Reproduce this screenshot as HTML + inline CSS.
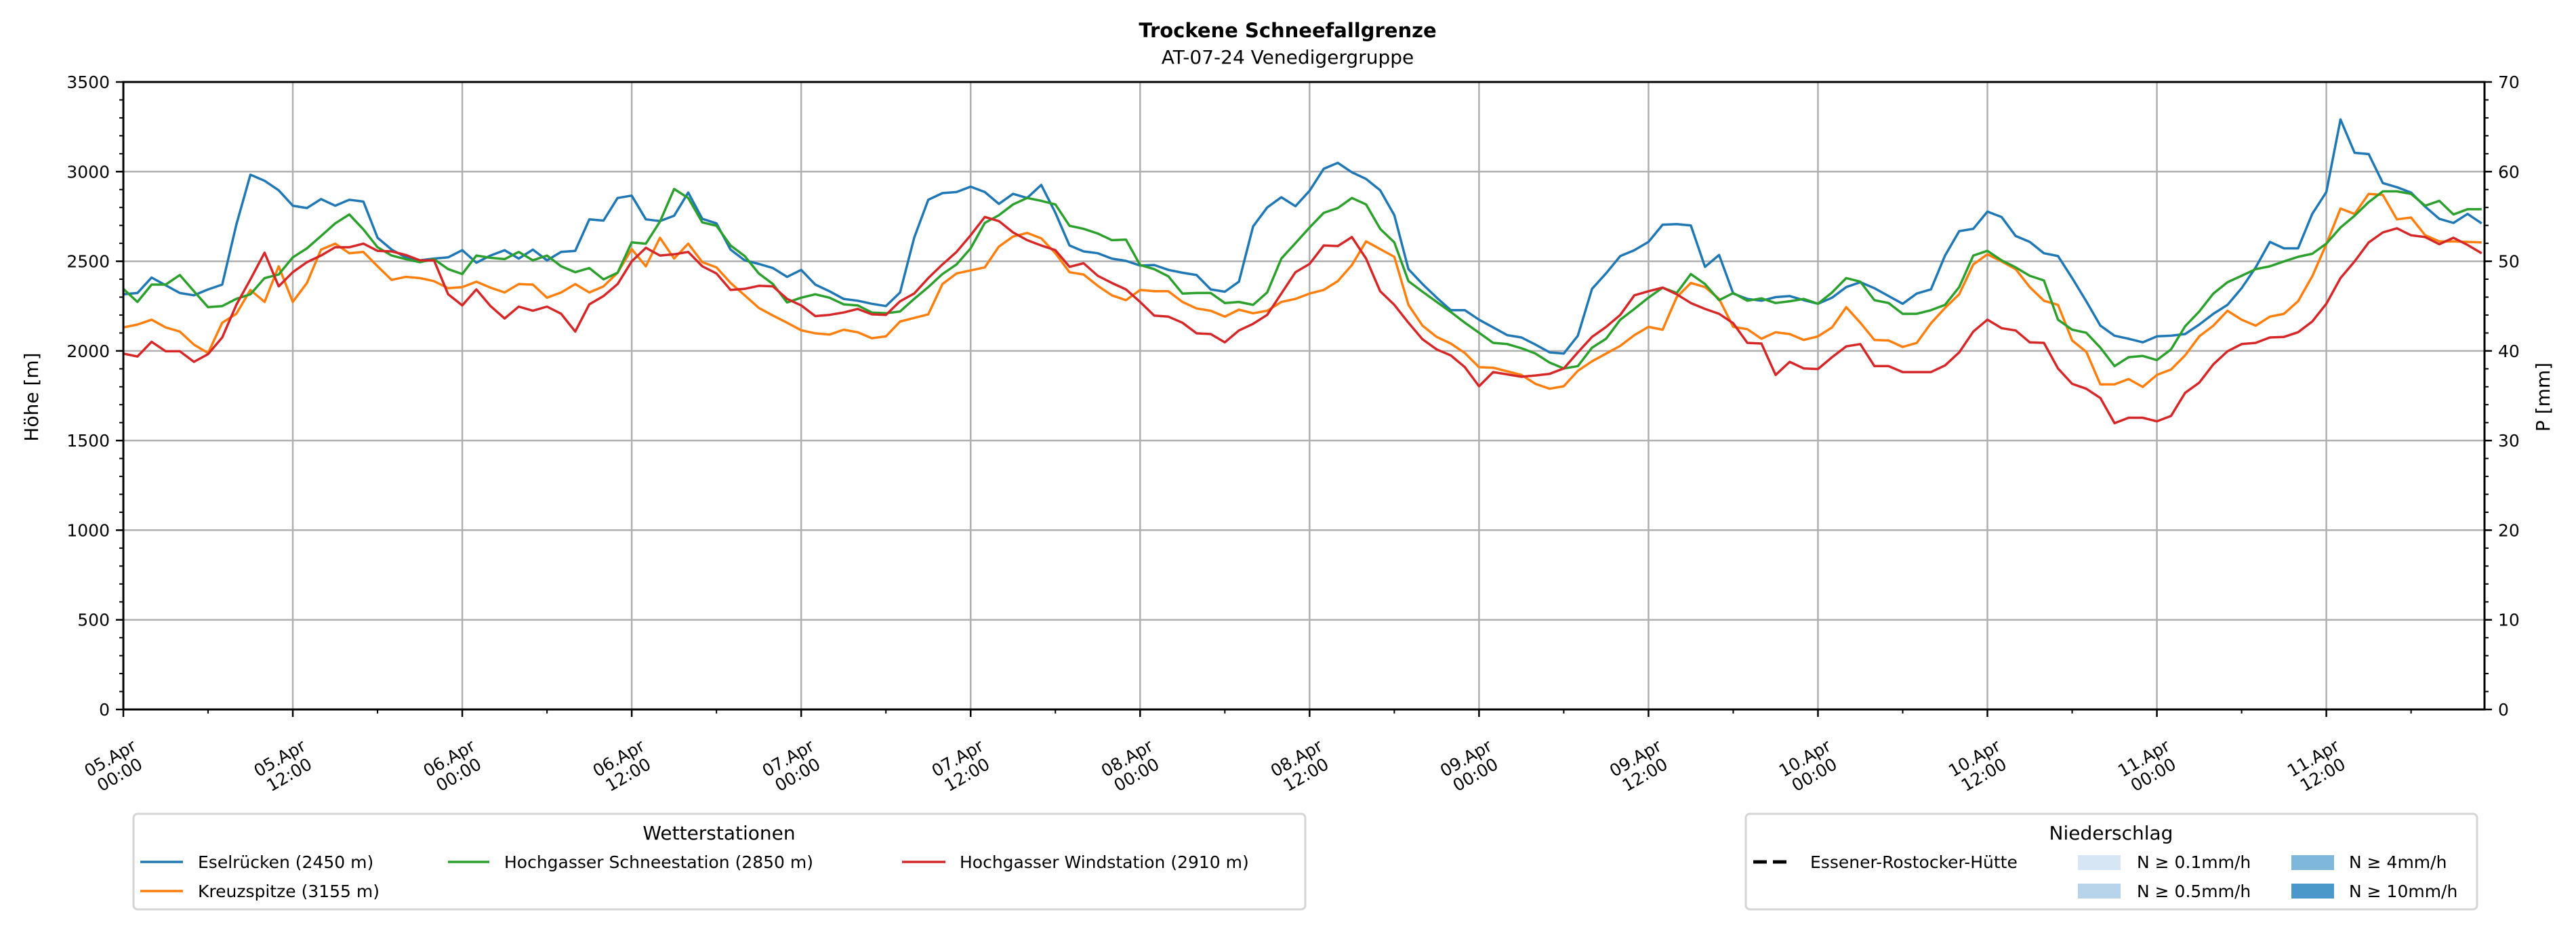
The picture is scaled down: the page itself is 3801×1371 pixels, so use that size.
<!DOCTYPE html>
<html><head><meta charset="utf-8"><style>
html,body{margin:0;padding:0;background:#fff;}
svg{display:block;font-family:"DejaVu Sans","Liberation Sans",sans-serif;}
</style></head><body>
<svg id="chart" width="3801" height="1371" viewBox="0 0 3801 1371" xmlns="http://www.w3.org/2000/svg">
<text x="1900" y="55" text-anchor="middle" font-size="29" font-weight="bold">Trockene Schneefallgrenze</text>
<text x="1900" y="94" text-anchor="middle" font-size="28">AT-07-24 Venedigergruppe</text>
<g id="grid"></g><g id="series"></g><g id="axes"></g>
<text transform="translate(56,586) rotate(-90)" text-anchor="middle" font-size="28">Höhe [m]</text>
<text transform="translate(3762,586) rotate(-90)" text-anchor="middle" font-size="28">P [mm]</text>
<g>
<rect x="197" y="1201" width="1729" height="141" rx="6" fill="#fff" stroke="#d5d5d5" stroke-width="3"/>
<text x="1061" y="1239" text-anchor="middle" font-size="28">Wetterstationen</text>
<g><line x1="207" y1="1272" x2="270" y2="1272" stroke="#1f77b4" stroke-width="3.5"/><text x="292" y="1281" font-size="25">Eselrücken (2450 m)</text></g>
<g><line x1="207" y1="1315" x2="270" y2="1315" stroke="#ff7f0e" stroke-width="3.5"/><text x="292" y="1324" font-size="25">Kreuzspitze (3155 m)</text></g>
<g><line x1="661" y1="1272" x2="722" y2="1272" stroke="#2ca02c" stroke-width="3.5"/><text x="744" y="1281" font-size="25">Hochgasser Schneestation (2850 m)</text></g>
<g><line x1="1331" y1="1272" x2="1395" y2="1272" stroke="#d62728" stroke-width="3.5"/><text x="1416" y="1281" font-size="25">Hochgasser Windstation (2910 m)</text></g>
</g>
<g>
<rect x="2576" y="1201" width="1079" height="141" rx="6" fill="#fff" stroke="#d5d5d5" stroke-width="3"/>
<text x="3115" y="1239" text-anchor="middle" font-size="28">Niederschlag</text>
<g><line x1="2587" y1="1272" x2="2643" y2="1272" stroke="#000" stroke-width="5" stroke-dasharray="20,9"/><text x="2671" y="1281" font-size="25">Essener-Rostocker-Hütte</text></g>
<g><rect x="3066" y="1262" width="63" height="22" fill="#d6e6f4"/><text x="3153" y="1281" font-size="25">N ≥ 0.1mm/h</text></g>
<g><rect x="3066" y="1304" width="63" height="22" fill="#b8d4ea"/><text x="3153" y="1324" font-size="25">N ≥ 0.5mm/h</text></g>
<g><rect x="3381" y="1262" width="63" height="22" fill="#7fb6dc"/><text x="3466" y="1281" font-size="25">N ≥ 4mm/h</text></g>
<g><rect x="3381" y="1304" width="63" height="22" fill="#4a97c9"/><text x="3466" y="1324" font-size="25">N ≥ 10mm/h</text></g>
</g>
</svg>
<script>
const xTickLabels = ["05.Apr|00:00","05.Apr|12:00","06.Apr|00:00","06.Apr|12:00","07.Apr|00:00","07.Apr|12:00","08.Apr|00:00","08.Apr|12:00","09.Apr|00:00","09.Apr|12:00","10.Apr|00:00","10.Apr|12:00","11.Apr|00:00","11.Apr|12:00"];
const yTicks = [0,500,1000,1500,2000,2500,3000,3500];
const y2Ticks = [0,10,20,30,40,50,60,70];
const eselruecken = [2316,2323,2409,2366,2323,2310,2343,2370,2704,2983,2949,2896,2810,2797,2847,2810,2843,2833,2631,2565,2522,2505,2515,2522,2562,2492,2532,2562,2515,2565,2505,2552,2558,2734,2727,2853,2866,2734,2724,2754,2883,2737,2711,2565,2505,2485,2462,2413,2452,2370,2333,2290,2280,2263,2250,2326,2631,2843,2880,2886,2916,2886,2820,2876,2853,2926,2770,2588,2555,2545,2515,2502,2476,2479,2452,2436,2423,2343,2330,2386,2694,2800,2857,2807,2893,3016,3049,2996,2959,2896,2757,2456,2373,2297,2227,2227,2174,2131,2088,2075,2035,1992,1985,2085,2346,2433,2529,2562,2608,2704,2707,2700,2469,2535,2320,2290,2280,2300,2306,2283,2263,2297,2356,2383,2350,2306,2263,2320,2343,2532,2668,2681,2777,2747,2641,2608,2545,2529,2406,2277,2141,2085,2068,2048,2081,2085,2094,2147,2207,2257,2350,2466,2608,2572,2572,2764,2886,3291,3105,3098,2936,2913,2883,2804,2737,2714,2764,2711];
const kreuzspitze = [2131,2147,2174,2131,2108,2035,1988,2157,2207,2340,2273,2472,2273,2379,2565,2598,2545,2552,2472,2396,2413,2406,2389,2350,2356,2386,2353,2326,2373,2370,2297,2326,2373,2326,2360,2436,2568,2472,2631,2515,2598,2495,2466,2379,2310,2240,2197,2157,2115,2098,2091,2118,2104,2071,2081,2164,2184,2204,2373,2432,2449,2466,2582,2638,2658,2628,2545,2439,2426,2363,2310,2283,2340,2333,2333,2273,2237,2224,2191,2230,2210,2224,2273,2290,2320,2340,2389,2479,2611,2568,2525,2257,2141,2078,2041,1988,1909,1906,1886,1866,1816,1789,1803,1889,1942,1985,2028,2088,2134,2118,2300,2379,2356,2290,2134,2121,2068,2104,2094,2061,2081,2131,2244,2157,2061,2058,2022,2045,2154,2240,2316,2482,2539,2499,2456,2356,2280,2257,2058,1995,1813,1813,1843,1799,1866,1896,1975,2081,2141,2224,2174,2141,2191,2207,2277,2416,2595,2794,2764,2876,2870,2734,2744,2645,2611,2611,2608,2605];
const schneestation = [2346,2273,2370,2370,2423,2333,2244,2250,2290,2316,2406,2426,2522,2572,2641,2711,2761,2678,2578,2532,2512,2495,2512,2456,2429,2532,2519,2512,2552,2505,2532,2472,2439,2462,2399,2436,2605,2598,2721,2903,2853,2717,2698,2588,2529,2432,2373,2270,2297,2316,2297,2260,2254,2214,2210,2220,2290,2356,2429,2482,2572,2714,2757,2817,2853,2837,2817,2698,2681,2655,2618,2621,2479,2456,2416,2320,2323,2323,2267,2273,2257,2326,2515,2601,2688,2770,2797,2853,2817,2681,2605,2389,2330,2273,2217,2157,2101,2045,2038,2015,1985,1935,1902,1915,2018,2068,2174,2234,2297,2353,2323,2429,2373,2283,2323,2280,2293,2267,2277,2290,2263,2326,2406,2386,2283,2267,2207,2207,2227,2257,2356,2532,2558,2505,2466,2419,2393,2174,2118,2101,2018,1915,1965,1972,1949,2008,2137,2220,2320,2383,2419,2456,2472,2499,2525,2542,2598,2688,2754,2830,2890,2890,2876,2810,2837,2761,2790,2790];
const windstation = [1985,1969,2051,1998,1998,1939,1982,2075,2257,2399,2548,2360,2439,2495,2532,2578,2578,2598,2558,2555,2535,2505,2505,2316,2254,2343,2250,2181,2247,2224,2247,2207,2108,2260,2306,2373,2499,2575,2532,2539,2552,2472,2432,2340,2346,2363,2360,2290,2254,2194,2201,2214,2234,2204,2201,2277,2320,2406,2482,2552,2645,2747,2724,2661,2618,2588,2562,2469,2489,2419,2379,2343,2273,2197,2191,2157,2098,2094,2048,2114,2151,2201,2320,2439,2485,2588,2585,2635,2515,2333,2257,2157,2065,2008,1975,1909,1803,1882,1869,1856,1863,1872,1902,1992,2078,2134,2201,2310,2333,2353,2316,2267,2234,2207,2154,2045,2041,1866,1939,1902,1899,1965,2025,2038,1915,1915,1882,1882,1882,1919,1992,2108,2174,2127,2114,2048,2045,1902,1816,1789,1737,1597,1627,1627,1607,1637,1766,1823,1925,1998,2038,2045,2075,2078,2104,2164,2263,2406,2499,2605,2661,2684,2645,2635,2595,2631,2591,2545];

const NS="http://www.w3.org/2000/svg";
const L=182,R=3666,T=121,B=1047,HMAX=167.2;
const xs=h=>L+(R-L)*h/HMAX;
const ys=v=>B-(B-T)*v/3500;
const y2s=v=>B-(B-T)*v/70;
function mk(tag,attrs,parent){const e=document.createElementNS(NS,tag);for(const k in attrs)e.setAttribute(k,attrs[k]);parent.appendChild(e);return e;}
const grid=document.getElementById('grid'),axes=document.getElementById('axes'),ser=document.getElementById('series');
yTicks.forEach(v=>{
  const g=mk('line',{x1:L,x2:R,y1:ys(v),y2:ys(v),stroke:'#b0b0b0','stroke-width':2.5},grid);
  
  
  const t=mk('text',{x:L-20,y:ys(v)+9,'text-anchor':'end','font-size':25},axes);
  t.textContent=v;
  
  
  mk('line',{x1:L-11,x2:L,y1:ys(v),y2:ys(v),stroke:'#000','stroke-width':2.5},axes);
});
for(let v=0;v<=3500;v+=100){mk('line',{x1:L-6,x2:L,y1:ys(v),y2:ys(v),stroke:'#000','stroke-width':2},axes);}
y2Ticks.forEach(v=>{
  const t=mk('text',{x:R+20,y:y2s(v)+9,'font-size':25},axes);
  t.textContent=v;
  
  
  mk('line',{x1:R,x2:R+11,y1:y2s(v),y2:y2s(v),stroke:'#000','stroke-width':2.5},axes);
});
for(let v=0;v<=70;v+=2){mk('line',{x1:R,x2:R+6,y1:y2s(v),y2:y2s(v),stroke:'#000','stroke-width':2},axes);}
xTickLabels.forEach((lab,i)=>{
  const x=xs(i*12);
  const g=mk('line',{x1:x,x2:x,y1:T,y2:B,stroke:'#b0b0b0','stroke-width':2.5},grid);
  
  
  mk('line',{x1:x,x2:x,y1:B,y2:B+11,stroke:'#000','stroke-width':2.5},axes);
  const mx=xs(i*12+6);
  if(mx<R) mk('line',{x1:mx,x2:mx,y1:B,y2:B+6,stroke:'#000','stroke-width':2},axes);
  const parts=lab.split('|');
  const t=mk('text',{transform:`translate(${x-13},1130) rotate(-30)`,'text-anchor':'middle','font-size':25},axes);
  
  
  mk('tspan',{x:0,y:-4},t).textContent=parts[0];
  mk('tspan',{x:0,y:24},t).textContent=parts[1];
});
const frame=mk('rect',{x:L,y:T,width:R-L,height:B-T,fill:'none',stroke:'#000','stroke-width':3},axes);


[[eselruecken,'#1f77b4','line-eselruecken'],[kreuzspitze,'#ff7f0e','line-kreuzspitze'],[schneestation,'#2ca02c','line-schneestation'],[windstation,'#d62728','line-windstation']].forEach(([d,c,n])=>{
  const p=mk('polyline',{points:d.map((v,h)=>xs(h).toFixed(1)+','+ys(v).toFixed(1)).join(' '),fill:'none',stroke:c,'stroke-width':3.5,'stroke-linejoin':'round'},ser);
  
  
});
</script>
</body></html>
